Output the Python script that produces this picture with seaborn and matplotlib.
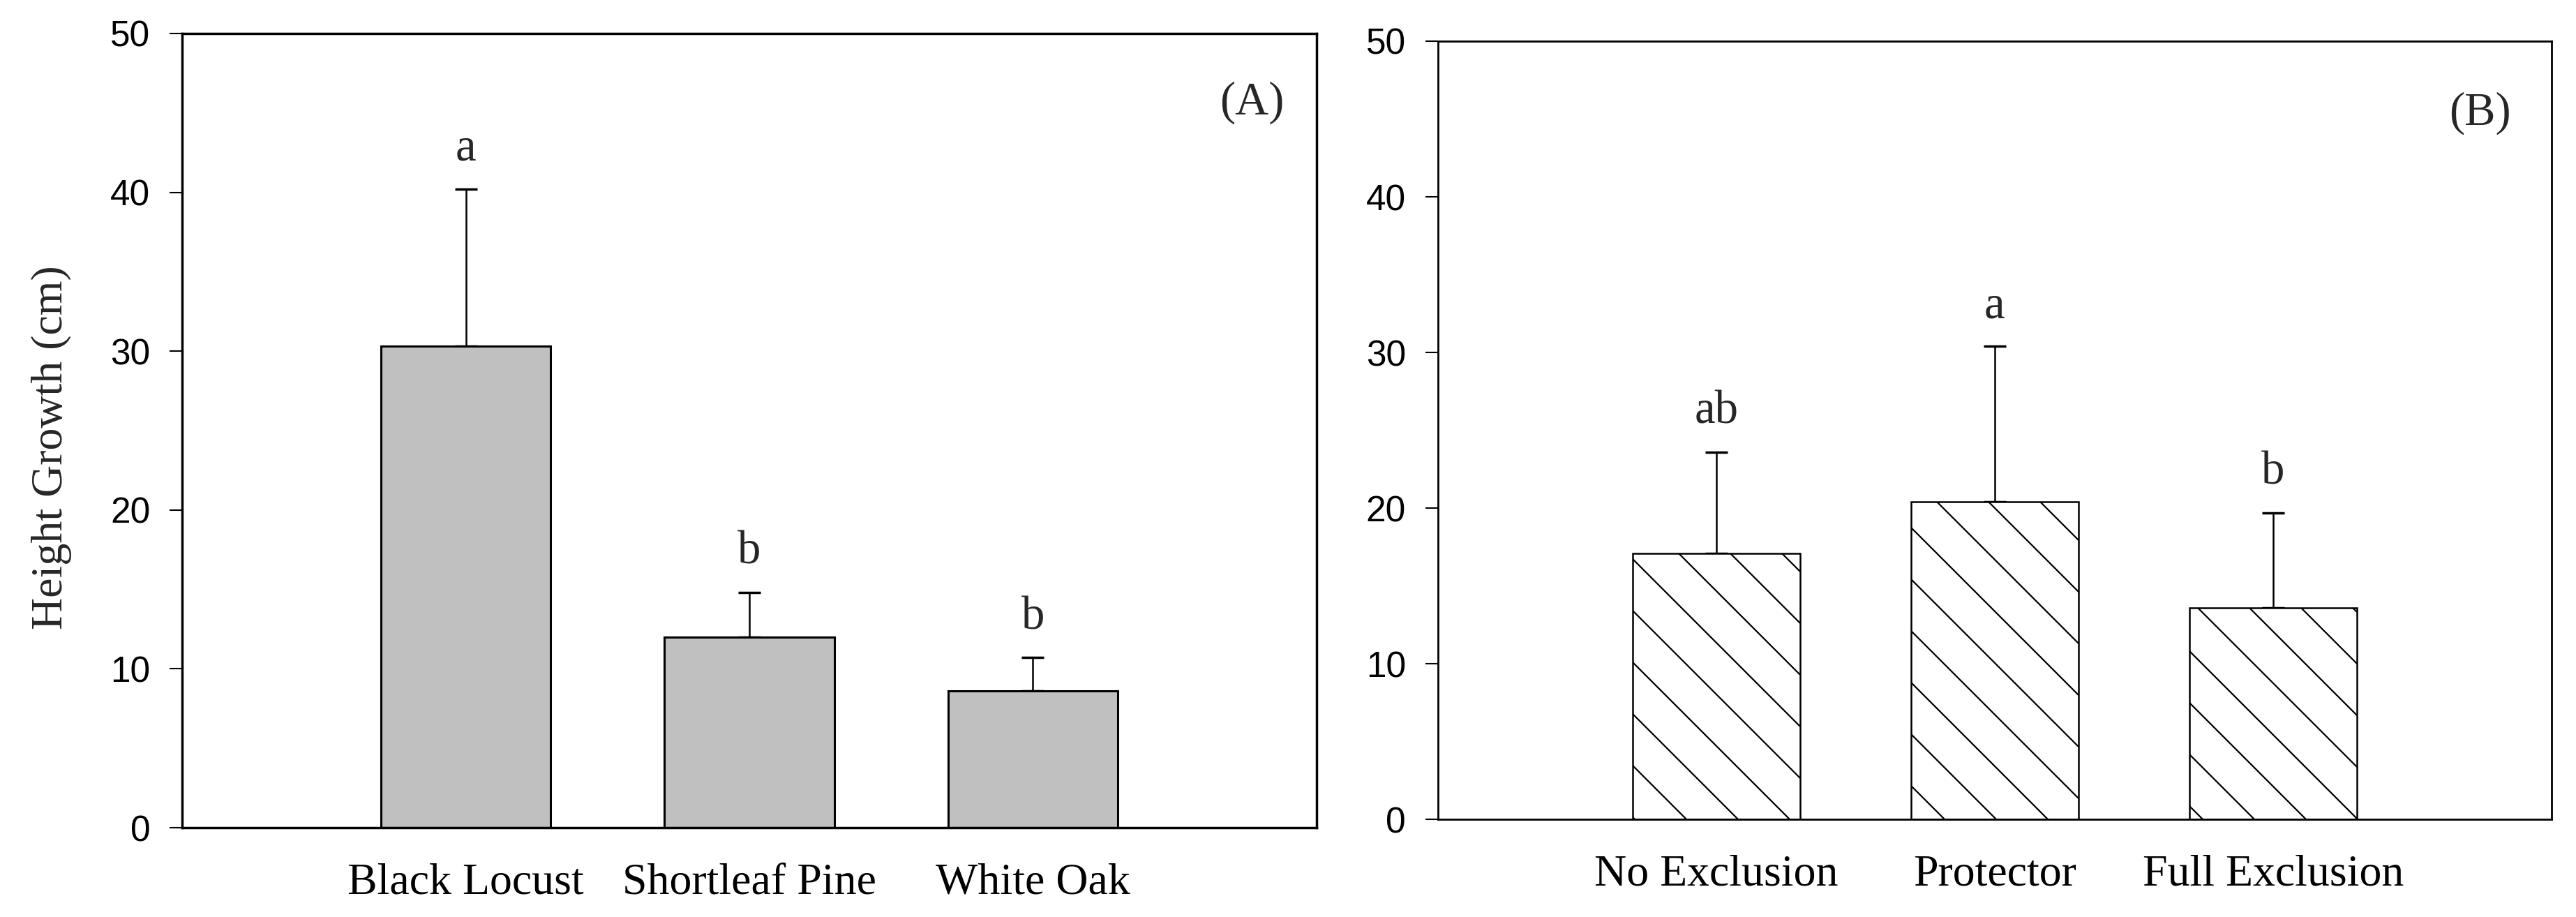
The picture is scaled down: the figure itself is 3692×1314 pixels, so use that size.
import numpy as np
import matplotlib
matplotlib.use("Agg")
import matplotlib.pyplot as plt
import seaborn as sns

# (A) species
species = ["Black Locust", "Shortleaf Pine", "White Oak"]
species_mean = [30.3, 12.0, 8.6]
species_se = [9.9, 2.8, 2.1]
species_letters = ["a", "b", "b"]

# (B) exclusion treatment
treatments = ["No Exclusion", "Protector", "Full Exclusion"]
treatment_mean = [17.1, 20.4, 13.6]
treatment_se = [6.5, 10.0, 6.1]
treatment_letters = ["ab", "a", "b"]

y_ticks = [0, 10, 20, 30, 40, 50]

sns.set_theme(style="ticks")
plt.rcParams["font.family"] = ["Liberation Serif", "DejaVu Serif"]

fig = plt.figure(figsize=(36.92, 13.14), dpi=100)
ax1 = fig.add_axes([0.0707, 0.0974, 0.4404, 0.8661])
ax2 = fig.add_axes([0.5582, 0.1065, 0.4323, 0.8486])


def style_axis(ax, spine_width):
    ax.set_xlim(-1, 3)
    ax.set_ylim(0, 50)
    ax.set_yticks(y_ticks, labels=[str(t) for t in y_ticks],
                  fontfamily="Liberation Sans", fontsize=37)
    for s in ax.spines.values():
        s.set_visible(True)
        s.set_color("black")
        s.set_linewidth(spine_width)
    ax.tick_params(axis="y", direction="out", length=13, width=1.5, pad=20,
                   left=True, right=False, colors="black")
    ax.tick_params(axis="x", length=0, pad=36, labelsize=46, colors="black")
    ax.set_xlabel("")
    ax.set_ylabel("")


def add_errors(ax, means, errs, letters, offset):
    x = np.arange(len(means))
    ax.errorbar(x, means, yerr=[np.zeros(len(errs)), errs], fmt="none",
                ecolor="black", elinewidth=1.8, capsize=11.5, capthick=2.5, zorder=1)
    for i, (m, e, lab) in enumerate(zip(means, errs, letters)):
        ax.text(i, m + e + offset, lab, ha="center", va="bottom", fontsize=48)


# panel A
sns.barplot(x=species, y=species_mean, color="#C0C0C0", saturation=1,
            edgecolor="black", linewidth=2.2, width=0.6, errorbar=None, ax=ax1, zorder=2)
style_axis(ax1, 2.5)
add_errors(ax1, species_mean, species_se, species_letters, 1.2)
ax1.set_ylabel("Height Growth (cm)", fontsize=46)
ax1.yaxis.set_label_coords(-0.097, 0.479)
ax1.text(0.943, 0.913, "(A)", transform=ax1.transAxes, ha="center", va="center", fontsize=48)

# panel B
sns.barplot(x=treatments, y=treatment_mean, color="white", saturation=1,
            edgecolor="black", linewidth=1.8, width=0.6, errorbar=None, ax=ax2, zorder=2)
style_axis(ax2, 2.0)
add_errors(ax2, treatment_mean, treatment_se, treatment_letters, 1.2)
ax2.text(0.936, 0.907, "(B)", transform=ax2.transAxes, ha="center", va="center", fontsize=48)

# diagonal hatching (45 deg on screen, one shared pixel grid), clipped to each bar
step = 74
phase = 41
inv = ax2.transData.inverted()
for bar in ax2.patches:
    bx, by = bar.get_x(), bar.get_y()
    bw, bh = bar.get_width(), bar.get_height()
    (px0, py0) = ax2.transData.transform((bx, by))
    (px1, py1) = ax2.transData.transform((bx + bw, by + bh))
    c_hi = px1 + py1
    c = phase + step * np.ceil((px0 + py0 - phase) / step)
    while c <= c_hi:
        pts = inv.transform([(px0, c - px0), (px1, c - px1)])
        line, = ax2.plot(pts[:, 0], pts[:, 1], color="black", lw=1.6, zorder=3)
        line.set_clip_path(bar)
        c += step
ax2.set_xlim(-1, 3)
ax2.set_ylim(0, 50)

fig.savefig("out.png", dpi=100, facecolor="white")
